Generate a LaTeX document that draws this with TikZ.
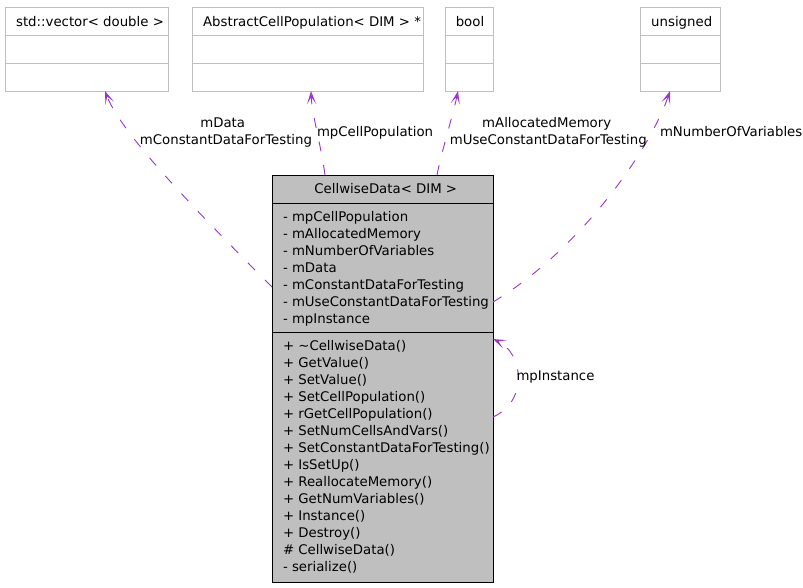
\documentclass[tikz,border=0pt]{standalone}
\usepackage{fontspec}
\setmainfont{DejaVu Sans}
\usetikzlibrary{arrows.meta,calc}
\definecolor{edgec}{HTML}{9A32CD}
\definecolor{boxg}{HTML}{BFBFBF}
\begin{document}
\begin{tikzpicture}[x=1pt,y=-1pt,
  every node/.style={font=\fontsize{13.3}{17}\selectfont, inner sep=0pt, outer sep=0pt},
  gbox/.style={draw=boxg, line width=1pt, fill=white, rectangle, anchor=north west, minimum height=84pt},
  mainbox/.style={draw=black, line width=1pt, fill=boxg, rectangle, anchor=north west},
  gline/.style={draw=boxg, line width=1pt},
  bline/.style={draw=black, line width=1pt},
  txt/.style={anchor=base},
  ltxt/.style={anchor=base west},
  rel/.style={draw=edgec, line width=0.9pt, dash pattern=on 10pt off 14pt,
    -{Stealth[open, length=13pt, width=9pt, inset=7pt, line width=1pt]}}
]
\useasboundingbox (0,0) rectangle (803,587);

% top boxes
\node[gbox, minimum width=163pt] (vec) at (5,7) {};
\node[gbox, minimum width=231pt] (acp) at (192,7) {};
\node[gbox, minimum width=48pt] (bool) at (445,7) {};
\node[gbox, minimum width=80pt] (uns) at (640,7) {};
\foreach \b in {vec,acp,bool,uns}{
  \draw[gline] ($(\b.north west)+(0,28)$) -- ($(\b.north east)+(0,28)$);
  \draw[gline] ($(\b.north west)+(0,56)$) -- ($(\b.north east)+(0,56)$);
}
\node[txt] (tvec) at (90,26) {std::vector< double >};
\node[txt] (tacp) at (312,26) {AbstractCellPopulation< DIM > *};
\node[txt] (tbool) at (470,26) {bool};
\node[txt] (tuns) at (681.7,26) {unsigned};

% main class box
\node[mainbox, minimum width=221pt, minimum height=407pt] (main) at (272,175) {};
\draw[bline] ($(main.north west)+(0,28)$) -- ($(main.north east)+(0,28)$);
\draw[bline] ($(main.north west)+(0,157)$) -- ($(main.north east)+(0,157)$);
\node[txt] (tmain) at (385.8,193.5) {CellwiseData< DIM >};

\foreach \t [count=\i from 0] in {- mpCellPopulation, - mAllocatedMemory, - mNumberOfVariables, - mData, - mConstantDataForTesting, - mUseConstantDataForTesting, - mpInstance}
  \node[ltxt] (att\i) at (283,221.5+17*\i) {\t};

\foreach \t [count=\i from 0] in {+ {\char"7E}CellwiseData(), + GetValue(), + SetValue(), + SetCellPopulation(), + rGetCellPopulation(), + SetNumCellsAndVars(), + SetConstantDataForTesting(), + IsSetUp(), + ReallocateMemory(), + GetNumVariables(), + Instance(), + Destroy(), \# CellwiseData(), - serialize()}
  \node[ltxt] (met\i) at (283,350.7+17*\i) {\t};

% relations
\draw[rel] ($(main.north west)+(0,112)$) .. controls (180,195) and (120,130) .. ($(vec.south west)+(100,0)$);
\draw[rel] ($(main.north west)+(53,0)$) .. controls (320,140) and (312,115) .. ($(acp.south west)+(119,0)$);
\draw[rel] ($(main.north west)+(165,0)$) .. controls (442,150) and (453,115) .. ($(bool.south west)+(13,0)$);
\draw[rel] ($(main.north east)+(0,127)$) .. controls (580,250) and (650,150) .. ($(uns.south west)+(30,0)$);
\draw[rel] ($(main.north east)+(0,242)$) .. controls (530,400) and (522,352) .. ($(main.north east)+(0,164)$);

% relation labels
\node[txt] (lmdata) at (222.7,127.5) {mData};
\node[txt] (lmconst) at (226,144) {mConstantDataForTesting};
\node[ltxt] (lcell) at (317,136) {mpCellPopulation};
\node[txt] (lalloc) at (546.7,127.5) {mAllocatedMemory};
\node[txt] (luse) at (548.3,144) {mUseConstantDataForTesting};
\node[ltxt] (lnum) at (660,136) {mNumberOfVariables};
\node[ltxt] (linst) at (516.5,380.5) {mpInstance};
\end{tikzpicture}
\end{document}
